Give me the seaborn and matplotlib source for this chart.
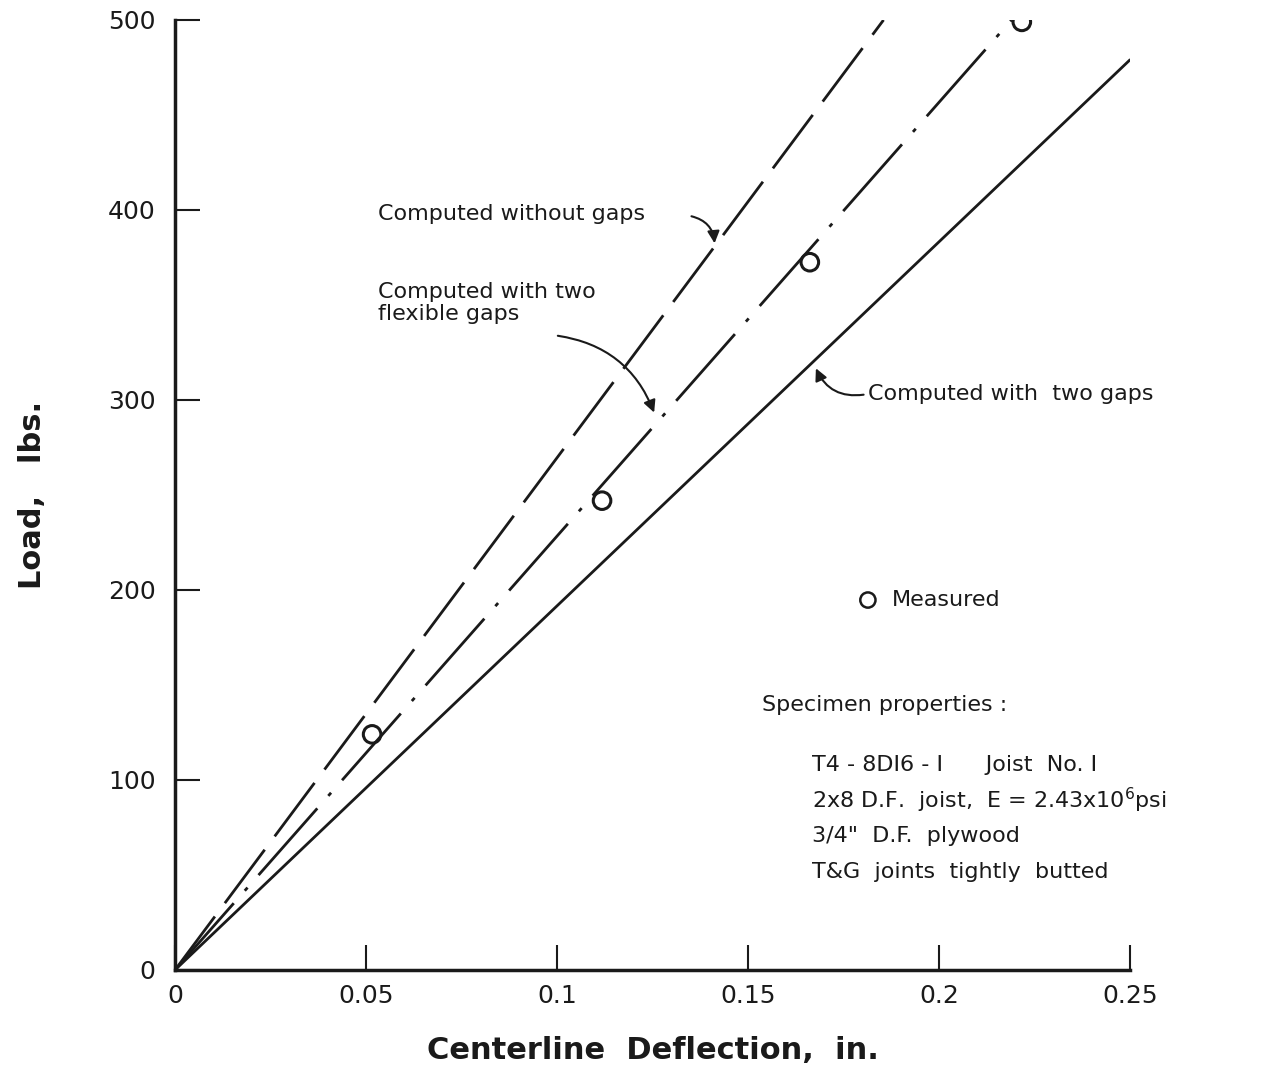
import numpy as np
import pandas as pd
import matplotlib
matplotlib.use("Agg")
import matplotlib.pyplot as plt
import seaborn as sns

# dados (deflexao em in., carga em lbs)
defl_sem_gaps = [0.0, 0.1855]
carga_sem_gaps = [0.0, 500.0]

defl_gaps_flex = [0.0, 0.219]
carga_gaps_flex = [0.0, 500.0]

defl_dois_gaps = [0.0, 0.25]
carga_dois_gaps = [0.0, 479.0]

defl_medido = [0.0516, 0.1118, 0.1662, 0.2217]
carga_medido = [124.0, 247.0, 372.5, 499.0]

x_ticks = [0, 0.05, 0.1, 0.15, 0.2, 0.25]
x_labels = ["0", "0.05", "0.1", "0.15", "0.2", "0.25"]
y_ticks = [0, 100, 200, 300, 400, 500]

sns.set_style("ticks")
plt.rcParams["font.family"] = ["DejaVu Sans"]

fig = plt.figure(figsize=(12.71, 10.8), dpi=100)
ax = fig.add_axes([0.1377, 0.1019, 0.7513, 0.8796])

cor = "#1a1a1a"
lw = 2.0

sns.lineplot(x=defl_sem_gaps, y=carga_sem_gaps, ax=ax, color=cor, lw=lw)
ax.lines[-1].set_dashes([24, 6])
sns.lineplot(x=defl_gaps_flex, y=carga_gaps_flex, ax=ax, color=cor, lw=lw)
ax.lines[-1].set_dashes([32, 6, 1.5, 6])
sns.lineplot(x=defl_dois_gaps, y=carga_dois_gaps, ax=ax, color=cor, lw=lw)

sns.scatterplot(x=defl_medido, y=carga_medido, ax=ax, marker="o", s=160,
                facecolor="none", edgecolor=cor, linewidth=2.2, zorder=5)

ax.set_xlim(0, 0.25)
ax.set_ylim(0, 500)
ax.set_xticks(x_ticks)
ax.set_xticklabels(x_labels)
ax.set_yticks(y_ticks)
ax.tick_params(axis="both", direction="in", length=18, width=1.5,
               labelsize=18, colors=cor)
ax.tick_params(axis="y", pad=14)
ax.tick_params(axis="x", pad=10)
sns.despine(ax=ax)
for s in ["left", "bottom"]:
    ax.spines[s].set_linewidth(2.5)
    ax.spines[s].set_color(cor)

ax.set_xlabel("Centerline  Deflection,  in.", fontsize=22, fontweight="bold",
              labelpad=20, color=cor)
ax.set_ylabel("Load,   lbs.", fontsize=22, fontweight="bold", labelpad=44,
              color=cor)

txt = dict(fontsize=16, color=cor, va="center", ha="left")
ax.text(0.0531, 398, "Computed without gaps", **txt)
ax.annotate("", xy=(0.1413, 381), xytext=(0.1345, 397),
            arrowprops=dict(arrowstyle="-|>", color=cor, lw=1.5,
                            connectionstyle="arc3,rad=-0.4", mutation_scale=18))

ax.text(0.0531, 351, "Computed with two\nflexible gaps", linespacing=1.1, **txt)
ax.annotate("", xy=(0.1257, 292), xytext=(0.0995, 334),
            arrowprops=dict(arrowstyle="-|>", color=cor, lw=1.5,
                            connectionstyle="arc3,rad=-0.3", mutation_scale=18))

ax.text(0.1814, 303, "Computed with  two gaps", **txt)
ax.annotate("", xy=(0.1675, 318), xytext=(0.181, 303),
            arrowprops=dict(arrowstyle="-|>", color=cor, lw=1.5,
                            connectionstyle="arc3,rad=-0.4", mutation_scale=18))

# legenda feita a mao
sns.scatterplot(x=[0.1814], y=[194.7], ax=ax, marker="o", s=120,
                facecolor="none", edgecolor=cor, linewidth=1.8)
ax.text(0.1876, 194.7, "Measured", **txt)

ax.text(0.1537, 139.5, "Specimen properties :", **txt)
ax.text(0.1668, 108, "T4 - 8DI6 - I      Joist  No. I", **txt)
ax.text(0.1668, 89.5, r"2x8 D.F.  joist,  E = 2.43x10$^{6}$psi", **txt)
ax.text(0.1668, 70.5, "3/4\"  D.F.  plywood", **txt)
ax.text(0.1668, 51.6, "T&G  joints  tightly  butted", **txt)

plt.savefig("out.png", dpi=100)
